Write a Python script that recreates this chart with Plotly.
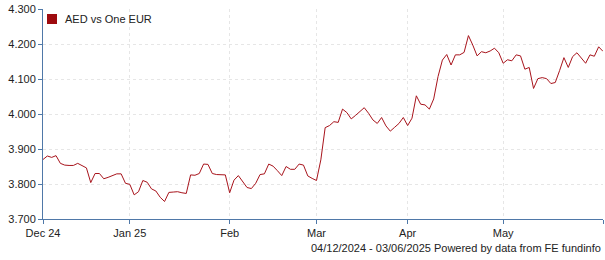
import plotly.graph_objects as go
import pandas as pd

# Trading dates (weekdays) between 04/12/2024 and 03/06/2025
dates = [d.strftime("%Y-%m-%d") for d in pd.bdate_range("2024-12-04", "2025-06-03")]

# AED vs One EUR values
values = [
    3.870, 3.880, 3.876, 3.881, 3.859, 3.854, 3.853, 3.853, 3.859, 3.853,
    3.846, 3.804, 3.830, 3.830, 3.815, 3.819, 3.825, 3.829, 3.829, 3.802,
    3.799, 3.769, 3.778, 3.810, 3.805, 3.786, 3.780, 3.762, 3.750, 3.776,
    3.777, 3.778, 3.775, 3.773, 3.826, 3.825, 3.830, 3.857, 3.856, 3.830,
    3.827, 3.827, 3.826, 3.775, 3.811, 3.824, 3.807, 3.790, 3.787, 3.802,
    3.827, 3.829, 3.857, 3.851, 3.838, 3.824, 3.850, 3.842, 3.842, 3.857,
    3.854, 3.823, 3.816, 3.810, 3.869, 3.961, 3.967, 3.978, 3.976, 4.014,
    4.004, 3.986, 3.996, 4.007, 4.018, 4.002, 3.983, 3.973, 3.990, 3.966,
    3.951, 3.962, 3.973, 3.990, 3.967, 3.988, 4.052, 4.028, 4.026, 4.014,
    4.043, 4.107, 4.154, 4.170, 4.140, 4.169, 4.169, 4.176, 4.224, 4.197,
    4.166, 4.178, 4.175, 4.180, 4.188, 4.175, 4.145, 4.155, 4.152, 4.169,
    4.166, 4.128, 4.133, 4.073, 4.101, 4.104, 4.101, 4.087, 4.090, 4.124,
    4.161, 4.133, 4.164, 4.175, 4.160, 4.145, 4.169, 4.165, 4.192, 4.179,
]

tick_dates = ["2024-12-04", "2025-01-01", "2025-02-03", "2025-03-03",
              "2025-04-01", "2025-05-01", "2025-06-03"]
tick_labels = ["Dec 24", "Jan 25", "Feb", "Mar", "Apr", "May", ""]

y_ticks = [3.7, 3.8, 3.9, 4.0, 4.1, 4.2, 4.3]
series_name = "AED vs One EUR"
footer = "04/12/2024 - 03/06/2025 Powered by data from FE fundinfo"

LINE = "#a8141c"
AXIS = "#4f78a8"
GRID = "#e6e6e6"
FONT = "Liberation Sans, Arial, sans-serif"

fig = go.Figure()
fig.add_trace(go.Scatter(
    x=dates, y=values, mode="lines",
    line=dict(color=LINE, width=1),
    name=series_name, showlegend=False, hoverinfo="x+y",
))

fig.update_layout(
    width=605, height=260,
    margin=dict(l=43, r=2, t=9, b=41),
    paper_bgcolor="white", plot_bgcolor="white",
    font=dict(family=FONT, size=11, color="#222222"),
    showlegend=False,
)

fig.update_xaxes(
    type="category",
    range=[0, len(dates) - 1],
    tickmode="array", tickvals=tick_dates, ticktext=tick_labels,
    showline=True, linecolor=AXIS, linewidth=1,
    ticks="outside", ticklen=4, tickcolor=AXIS,
    showgrid=True, gridcolor=GRID, griddash="dot", gridwidth=1,
    zeroline=False,
    tickfont=dict(family=FONT, size=11, color="#222222"),
)
fig.update_yaxes(
    range=[3.7, 4.3],
    tickmode="array", tickvals=y_ticks,
    tickformat=".3f",
    showline=True, linecolor=AXIS, linewidth=1,
    ticks="outside", ticklen=4, tickcolor=AXIS,
    showgrid=True, gridcolor=GRID, griddash="dot", gridwidth=1,
    zeroline=False,
    tickfont=dict(family=FONT, size=11, color="#222222"),
)

# Legend box (square swatch + label) drawn in plot-area paper coords
fig.add_shape(type="rect", xref="paper", yref="paper",
              x0=4 / 560, x1=14 / 560, y0=1 - 15 / 210, y1=1 - 5 / 210,
              fillcolor="#9e0b0f", line=dict(width=0))
fig.add_annotation(text=series_name, xref="paper", yref="paper",
                   x=20 / 560, y=1 - 10 / 210, xanchor="left", yanchor="middle",
                   showarrow=False, font=dict(family=FONT, size=11, color="#222222"))

fig.add_annotation(text=footer, xref="paper", yref="paper",
                   x=1, y=-29 / 210, xanchor="right", yanchor="middle",
                   showarrow=False,
                   font=dict(family=FONT, size=11, color="#222222"))

fig.write_html("out.html")
